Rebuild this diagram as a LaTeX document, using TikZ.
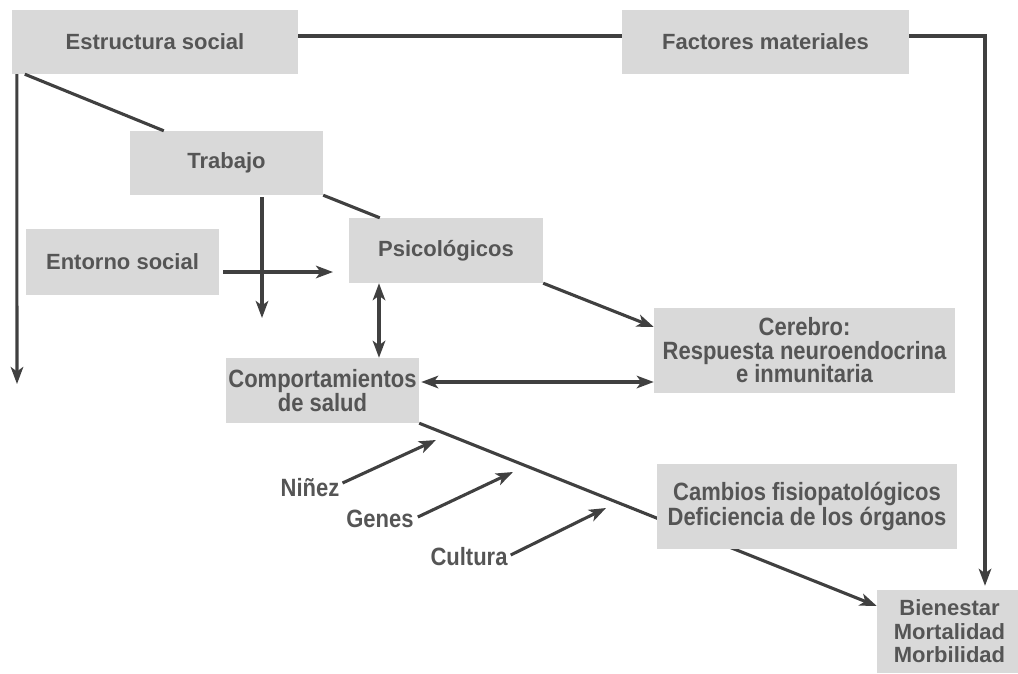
\documentclass[tikz,border=0pt]{standalone}
\usepackage{fontspec}
\setmainfont{Liberation Sans}
\newfontfamily\condf{Liberation Sans}[FakeStretch=0.88]
\usetikzlibrary{arrows.meta,backgrounds,calc}
\definecolor{boxfill}{HTML}{D9D9D9}
\definecolor{txt}{HTML}{555555}
\definecolor{ln}{HTML}{404040}
\tikzset{
  box/.style={fill=boxfill, inner sep=0pt, align=center, text=txt, anchor=center},
  bfont/.style={font=\fontsize{22}{23.5}\selectfont\bfseries},
  cfont/.style={font=\condf\fontsize{25}{23.5}\selectfont\bfseries},
  conn/.style={draw=ln, line width=3.1pt},
  tip/.tip={Stealth[length=17pt,width=12.5pt,inset=4.5pt]},
  arr/.style={conn, -tip},
  darr/.style={conn, tip-tip},
  lbl/.style={text=txt, inner sep=0pt, anchor=center}
}
\begin{document}
\begin{tikzpicture}[x=1pt,y=-1pt]
\useasboundingbox (0,0) rectangle (1018,673);
% boxes
\node[box,bfont,minimum width=286pt,minimum height=64pt] (est) at (155,42) {Estructura social};
\node[box,bfont,minimum width=287pt,minimum height=64pt] (fac) at (765.5,42) {Factores materiales};
\node[box,bfont,minimum width=193pt,minimum height=64pt] (trab) at (226.5,163) {Trabajo};
\node[box,bfont,minimum width=193pt,minimum height=66pt] (ento) at (122.5,262) {Entorno social};
\node[box,bfont,minimum width=194pt,minimum height=65pt] (psi) at (446,250.5) {Psicológicos};
\node[box,cfont,minimum width=193pt,minimum height=65pt] (comp) at (322.5,390.5) {Comportamientos\\de salud};
\node[box,cfont,minimum width=301pt,minimum height=85pt] (cer) at (804.5,350.5) {Cerebro:\\Respuesta neuroendocrina\\e inmunitaria};
\node[box,cfont,minimum width=300pt,minimum height=85pt] (camb) at (807,506.5) {Cambios fisiopatológicos\\Deficiencia de los órganos};
\node[box,bfont,minimum width=145pt,minimum height=83pt] (bien) at (949.5,631.5) {Bienestar\\Mortalidad\\Morbilidad};
% labels
\node[lbl,cfont] (nin) at (310,488) {Niñez};
\node[lbl,cfont] (gen) at (380,519) {Genes};
\node[lbl,cfont] (cul) at (469,557) {Cultura};
% free ends
\coordinate (leftEnd) at (17,384);
\coordinate (trabEnd) at (262,318);
\coordinate (entEnd) at (333,272);
\coordinate (ninTip) at (436,440);
\coordinate (genTip) at (513,472);
\coordinate (culTip) at (606,508);
% connectors
\begin{scope}[on background layer]
\draw[arr] (comp.south east) -- ([yshift=25.5pt]bien.west);
\end{scope}
\draw[conn] ([yshift=6pt]est.east) -- ([yshift=6pt]fac.west);
\draw[arr,shorten >=4pt] ([yshift=6pt]fac.east) -| ([xshift=35.5pt]bien.north);
\draw[arr] ([xshift=5pt]est.south west) -- (leftEnd);
\draw[conn] ([xshift=13pt]est.south west) -- ([xshift=34pt]trab.north west);
\draw[conn] (trab.south east) -- ([xshift=31pt]psi.north west);
\draw[arr] ([xshift=35.5pt,yshift=-2pt]trab.south) -- (trabEnd);
\draw[arr] ([xshift=4pt,yshift=-10pt]ento.east) -- (entEnd);
\draw[darr] ([xshift=-67pt]psi.south) -- ([xshift=56.5pt]comp.north);
\draw[darr] ([xshift=2pt,yshift=8.5pt]comp.east) -- ([yshift=8.5pt]comp.east -| cer.west);
\draw[arr] (psi.south east) -- ([yshift=23.5pt]cer.west);
\draw[arr] ([xshift=3pt,yshift=5pt]nin.east) -- (ninTip);
\draw[arr] ([xshift=4pt,yshift=2pt]gen.east) -- (genTip);
\draw[arr] ([xshift=3pt,yshift=2pt]cul.east) -- (culTip);
\end{tikzpicture}
\end{document}
